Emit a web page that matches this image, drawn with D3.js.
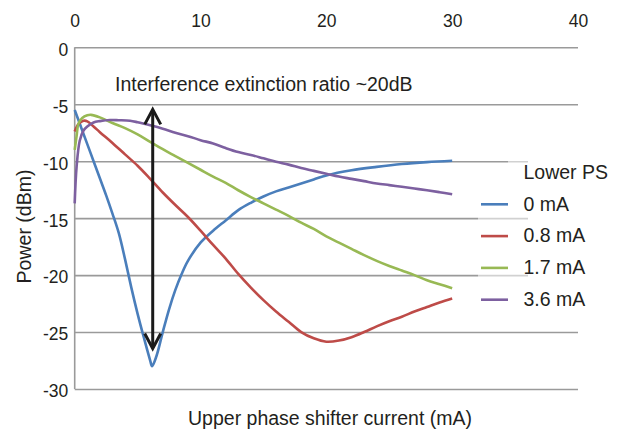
<!DOCTYPE html>
<html>
<head>
<meta charset="utf-8">
<script src="https://cdn.jsdelivr.net/npm/d3@7"></script>
<style>
  html, body { margin: 0; padding: 0; background: #fff; }
  svg { display: block; }
  text { font-family: "Liberation Sans", Arial, Helvetica, sans-serif; fill: #231f20; }
</style>
</head>
<body>
<svg id="chart" width="620" height="429"></svg>
<script>
// Upper phase shifter current (mA) and measured output power (dBm), per lower PS setting
const current0 = [0, 0.5, 1, 1.5, 2, 2.5, 3, 3.5, 4, 4.5, 5, 5.5, 6, 6.15, 6.5, 7, 7.5, 8, 8.5, 9, 10, 11, 12, 13, 14, 15, 16, 17, 18, 19, 20, 22, 24, 26, 28, 30];
const power0   = [-5.5, -7.0, -8.5, -10.0, -11.5, -13.0, -14.6, -16.3, -18.6, -21.1, -23.4, -25.5, -27.5, -28.0, -27.1, -25.0, -23.0, -21.3, -19.9, -18.75, -17.15, -16.1, -15.2, -14.3, -13.65, -13.1, -12.65, -12.3, -11.95, -11.6, -11.25, -10.8, -10.5, -10.25, -10.08, -9.96];

const current08 = [0, 0.3, 0.7, 1, 1.5, 2, 3, 4, 5, 6, 7, 8, 9, 10, 11, 12, 13, 14, 15, 16, 17, 18, 19, 20, 21, 22, 23, 24, 25, 26, 27, 28, 29, 30];
const power08   = [-7.4, -6.75, -6.45, -6.5, -6.95, -7.45, -8.4, -9.4, -10.4, -11.55, -12.75, -13.85, -14.9, -16.1, -17.35, -18.55, -19.9, -21.1, -22.2, -23.2, -24.1, -25.0, -25.55, -25.85, -25.75, -25.45, -25.0, -24.5, -24.05, -23.65, -23.2, -22.8, -22.4, -22.05];

const current17 = [0, 0.15, 0.3, 0.6, 1, 1.3, 2, 3, 4, 5, 6, 7, 8, 9, 10, 11, 12, 13, 14, 15, 16, 17, 18, 19, 20, 21, 22, 23, 24, 25, 26, 27, 28, 29, 30];
const power17   = [-9.0, -7.8, -6.7, -6.2, -5.97, -5.93, -6.15, -6.65, -7.1, -7.65, -8.3, -8.95, -9.55, -10.15, -10.75, -11.35, -11.9, -12.55, -13.15, -13.7, -14.25, -14.8, -15.4, -15.95, -16.6, -17.15, -17.7, -18.25, -18.75, -19.2, -19.6, -20.0, -20.45, -20.8, -21.15];

const current36 = [0, 0.15, 0.4, 0.7, 1, 1.5, 2, 2.8, 3.5, 4.4, 5, 6, 7, 8, 9, 10, 11, 12, 13, 14, 15, 16, 17, 18, 19, 20, 21, 22, 23, 24, 25, 26, 27, 28, 29, 30];
const power36   = [-13.7, -10.5, -8.2, -7.3, -6.95, -6.6, -6.48, -6.38, -6.4, -6.45, -6.58, -6.85, -7.15, -7.5, -7.8, -8.15, -8.45, -8.85, -9.2, -9.45, -9.75, -10.05, -10.3, -10.6, -10.85, -11.1, -11.35, -11.55, -11.75, -11.95, -12.1, -12.25, -12.4, -12.55, -12.72, -12.9];

const seriesNames  = ["0 mA", "0.8 mA", "1.7 mA", "3.6 mA"];
const seriesColors = ["#4a7ebb", "#be4b48", "#98b954", "#7d60a0"];
const seriesX = [current0, current08, current17, current36];
const seriesY = [power0, power08, power17, power36];

const xTicks = [0, 10, 20, 30, 40];
const yTicks = [0, -5, -10, -15, -20, -25, -30];

// Extinction-ratio arrow (mA, dBm)
const arrowX = 6.2;
const arrowTop = -5.45;
const arrowBottom = -26.45;

const svg = d3.select("#chart");
const x = d3.scaleLinear().domain([0, 40]).range([74.7, 578]);
const y = d3.scaleLinear().domain([-30, 0]).range([389, 47.3]);
const gridColor = "#9a9a9a";
const fontFamily = "'Liberation Sans', Arial, sans-serif";

// Horizontal gridlines
svg.append("g")
  .attr("transform", `translate(${x(0)},0)`)
  .call(d3.axisLeft(y).tickValues(yTicks).tickSize(-(x(40) - x(0))).tickFormat(""))
  .call(g => g.select(".domain").remove())
  .call(g => g.selectAll("line").attr("stroke", gridColor).attr("stroke-width", 1.6));

// Left axis line
svg.append("line")
  .attr("x1", x(0)).attr("x2", x(0))
  .attr("y1", y(0)).attr("y2", y(-30))
  .attr("stroke", gridColor).attr("stroke-width", 1.6);

// Y tick labels
svg.append("g")
  .attr("transform", `translate(${x(0)},0)`)
  .call(d3.axisLeft(y).tickValues(yTicks).tickSize(0).tickPadding(6.5).tickFormat(d => String(d)))
  .call(g => g.select(".domain").remove())
  .call(g => g.selectAll("text").attr("font-size", 17.5).attr("dy", "0.45em")
    .style("font-family", fontFamily).attr("fill", "#231f20"));

// X tick labels along the top
svg.append("g")
  .attr("transform", `translate(0,${y(0)})`)
  .call(d3.axisTop(x).tickValues(xTicks).tickSize(0).tickPadding(20).tickFormat(d => String(d)))
  .call(g => g.select(".domain").remove())
  .call(g => g.selectAll("text").attr("font-size", 17.5).attr("dy", "0em")
    .style("font-family", fontFamily).attr("fill", "#231f20"));

// Series lines
const line = d3.line().x(d => x(d[0])).y(d => y(d[1])).curve(d3.curveCatmullRom.alpha(0.5));
seriesNames.forEach((name, i) => {
  const pts = seriesX[i].map((cx, j) => [cx, seriesY[i][j]]);
  svg.append("path")
    .datum(pts)
    .attr("fill", "none")
    .attr("stroke", seriesColors[i])
    .attr("stroke-width", 2.6)
    .attr("stroke-linejoin", "round")
    .attr("d", line);
});

// Double-headed arrow
const ax = x(arrowX), ay1 = y(arrowTop), ay2 = y(arrowBottom);
svg.append("line")
  .attr("x1", ax).attr("x2", ax).attr("y1", ay1 + 1).attr("y2", ay2 - 1)
  .attr("stroke", "#1a1a1a").attr("stroke-width", 3);
svg.append("path")
  .attr("d", `M${ax - 8},${ay1 + 15} L${ax},${ay1} L${ax + 8},${ay1 + 15}`)
  .attr("fill", "none").attr("stroke", "#1a1a1a").attr("stroke-width", 3);
svg.append("path")
  .attr("d", `M${ax - 8},${ay2 - 15} L${ax},${ay2} L${ax + 8},${ay2 - 15}`)
  .attr("fill", "none").attr("stroke", "#1a1a1a").attr("stroke-width", 3);

svg.append("text")
  .attr("x", 115).attr("y", 90.5)
  .attr("font-size", 19.5)
  .text("Interference extinction ratio ~20dB");

// Legend backdrop
svg.append("rect").attr("x", 478).attr("y", 163).attr("width", 50).attr("height", 150)
  .attr("fill", "#fff").attr("opacity", 0.55);
svg.append("rect").attr("x", 508).attr("y", 155).attr("width", 20).attr("height", 8)
  .attr("fill", "#fff").attr("opacity", 0.55);
svg.append("rect").attr("x", 528).attr("y", 155).attr("width", 92).attr("height", 158)
  .attr("fill", "#fff");

// Legend
const legend = svg.append("g");
legend.append("text").attr("x", 523.5).attr("y", 178.5).attr("font-size", 19.5).text("Lower PS");
seriesNames.forEach((name, i) => {
  const ly = 204.3 + i * 31.8;
  legend.append("line")
    .attr("x1", 481).attr("x2", 508).attr("y1", ly).attr("y2", ly)
    .attr("stroke", seriesColors[i]).attr("stroke-width", 2.6);
  legend.append("text").attr("x", 523.5).attr("y", ly + 6.3).attr("font-size", 19.5).text(name);
});

// Axis titles
svg.append("text")
  .attr("x", 330).attr("y", 425)
  .attr("text-anchor", "middle").attr("font-size", 19.5)
  .text("Upper phase shifter current (mA)");
svg.append("text")
  .attr("transform", "translate(31,226.5) rotate(-90)")
  .attr("text-anchor", "middle").attr("font-size", 19.5)
  .text("Power (dBm)");
</script>
</body>
</html>
